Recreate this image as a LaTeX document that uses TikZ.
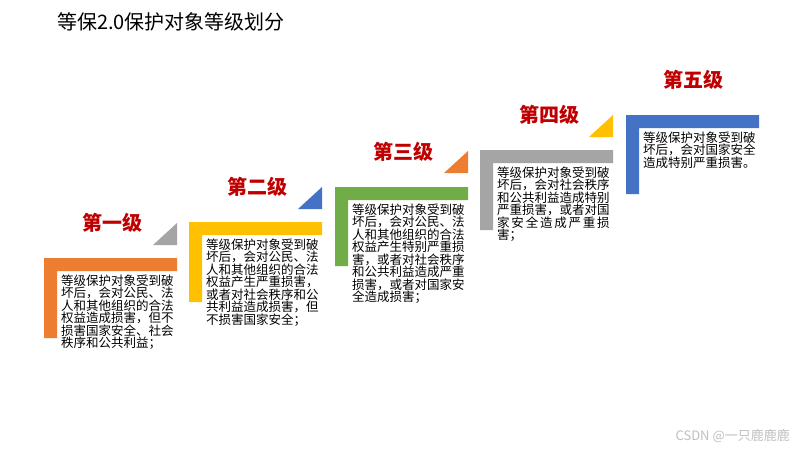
\documentclass[tikz,border=0pt]{standalone}
\usepackage{fontspec}
\newfontfamily\cjk{Noto Sans CJK SC}
\definecolor{lblred}{HTML}{C00000}
\definecolor{cOrange}{HTML}{ED7D31}
\definecolor{cYellow}{HTML}{FFC000}
\definecolor{cGreen}{HTML}{70AD47}
\definecolor{cGray}{HTML}{A5A5A5}
\definecolor{cBlue}{HTML}{4472C4}
\definecolor{txt}{HTML}{000000}
\definecolor{wm}{HTML}{C0C0C0}
\begin{document}
\begin{tikzpicture}[x=1pt,y=-1pt,
  lbl/.style={font=\cjk\bfseries\fontsize{20}{21}\selectfont, text=lblred, inner sep=0},
  desc/.style={font=\cjk\fontsize{12.5}{12.5}\selectfont, align=left, inner sep=0, anchor=north west, text=txt},
  titlestyle/.style={font=\cjk\fontsize{20}{22}\selectfont, text=black, inner sep=0, anchor=west},
  wmstyle/.style={font=\cjk\fontsize{13}{14}\selectfont, text=wm, inner sep=0, anchor=east}
]
\useasboundingbox (0,0) rectangle (800,450);
\fill[white] (0,0) rectangle (800,450);
\node[titlestyle] (title) at (57,22) {等保2.0保护对象等级划分};
% step 1
\fill[cOrange] (44,258) -- (177,258) -- (177,271) -- (57,271) -- (57,338) -- (44,338) -- cycle;
\fill[cGray] (177,223) -- (177,245) -- (153,245) -- cycle;
\node[lbl] (l1) at (112,223) {第一级};
\node[desc] (t1) at (61,274.5) {等级保护对象受到破\\坏后，会对公民、法\\人和其他组织的合法\\权益造成损害，但不\\损害国家安全、社会\\秩序和公共利益；};
% step 2
\fill[cYellow] (189,222) -- (322,222) -- (322,235) -- (202,235) -- (202,302) -- (189,302) -- cycle;
\fill[cBlue] (322,187) -- (322,209) -- (298,209) -- cycle;
\node[lbl] (l2) at (257,187) {第二级};
\node[desc] (t2) at (206,238.5) {等级保护对象受到破\\坏后，会对公民、法\\人和其他组织的合法\\权益产生严重损害，\\或者对社会秩序和公\\共利益造成损害，但\\不损害国家安全；};
% step 3
\fill[cGreen] (335,187) -- (468,187) -- (468,200) -- (348,200) -- (348,266) -- (335,266) -- cycle;
\fill[cOrange] (468,151) -- (468,173) -- (444,173) -- cycle;
\node[lbl] (l3) at (403,152) {第三级};
\node[desc] (t3) at (352,203.5) {等级保护对象受到破\\坏后，会对公民、法\\人和其他组织的合法\\权益产生特别严重损\\害，或者对社会秩序\\和公共利益造成严重\\损害，或者对国家安\\全造成损害；};
% step 4
\fill[cGray] (480,150) -- (613,150) -- (613,163) -- (493,163) -- (493,230) -- (480,230) -- cycle;
\fill[cYellow] (613,115) -- (613,137) -- (589,137) -- cycle;
\node[lbl] (l4) at (549,115) {第四级};
\node[desc] (t4) at (497,166.5) {等级保护对象受到破\\坏后，会对社会秩序\\和公共利益造成特别\\严重损害，或者对国\\\hbox to 112.5pt{家\hfil 安\hfil 全\hfil 造\hfil 成\hfil 严\hfil 重\hfil 损}\\害；};
% step 5
\fill[cBlue] (626,115) -- (759,115) -- (759,128) -- (639,128) -- (639,194) -- (626,194) -- cycle;
\node[lbl] (l5) at (693,80) {第五级};
\node[desc] (t5) at (643,131.5) {等级保护对象受到破\\坏后，会对国家安全\\造成特别严重损害。};
% watermark
\node[wmstyle] (wmk) at (790,436) {CSDN @一只鹿鹿鹿};
\end{tikzpicture}
\end{document}
